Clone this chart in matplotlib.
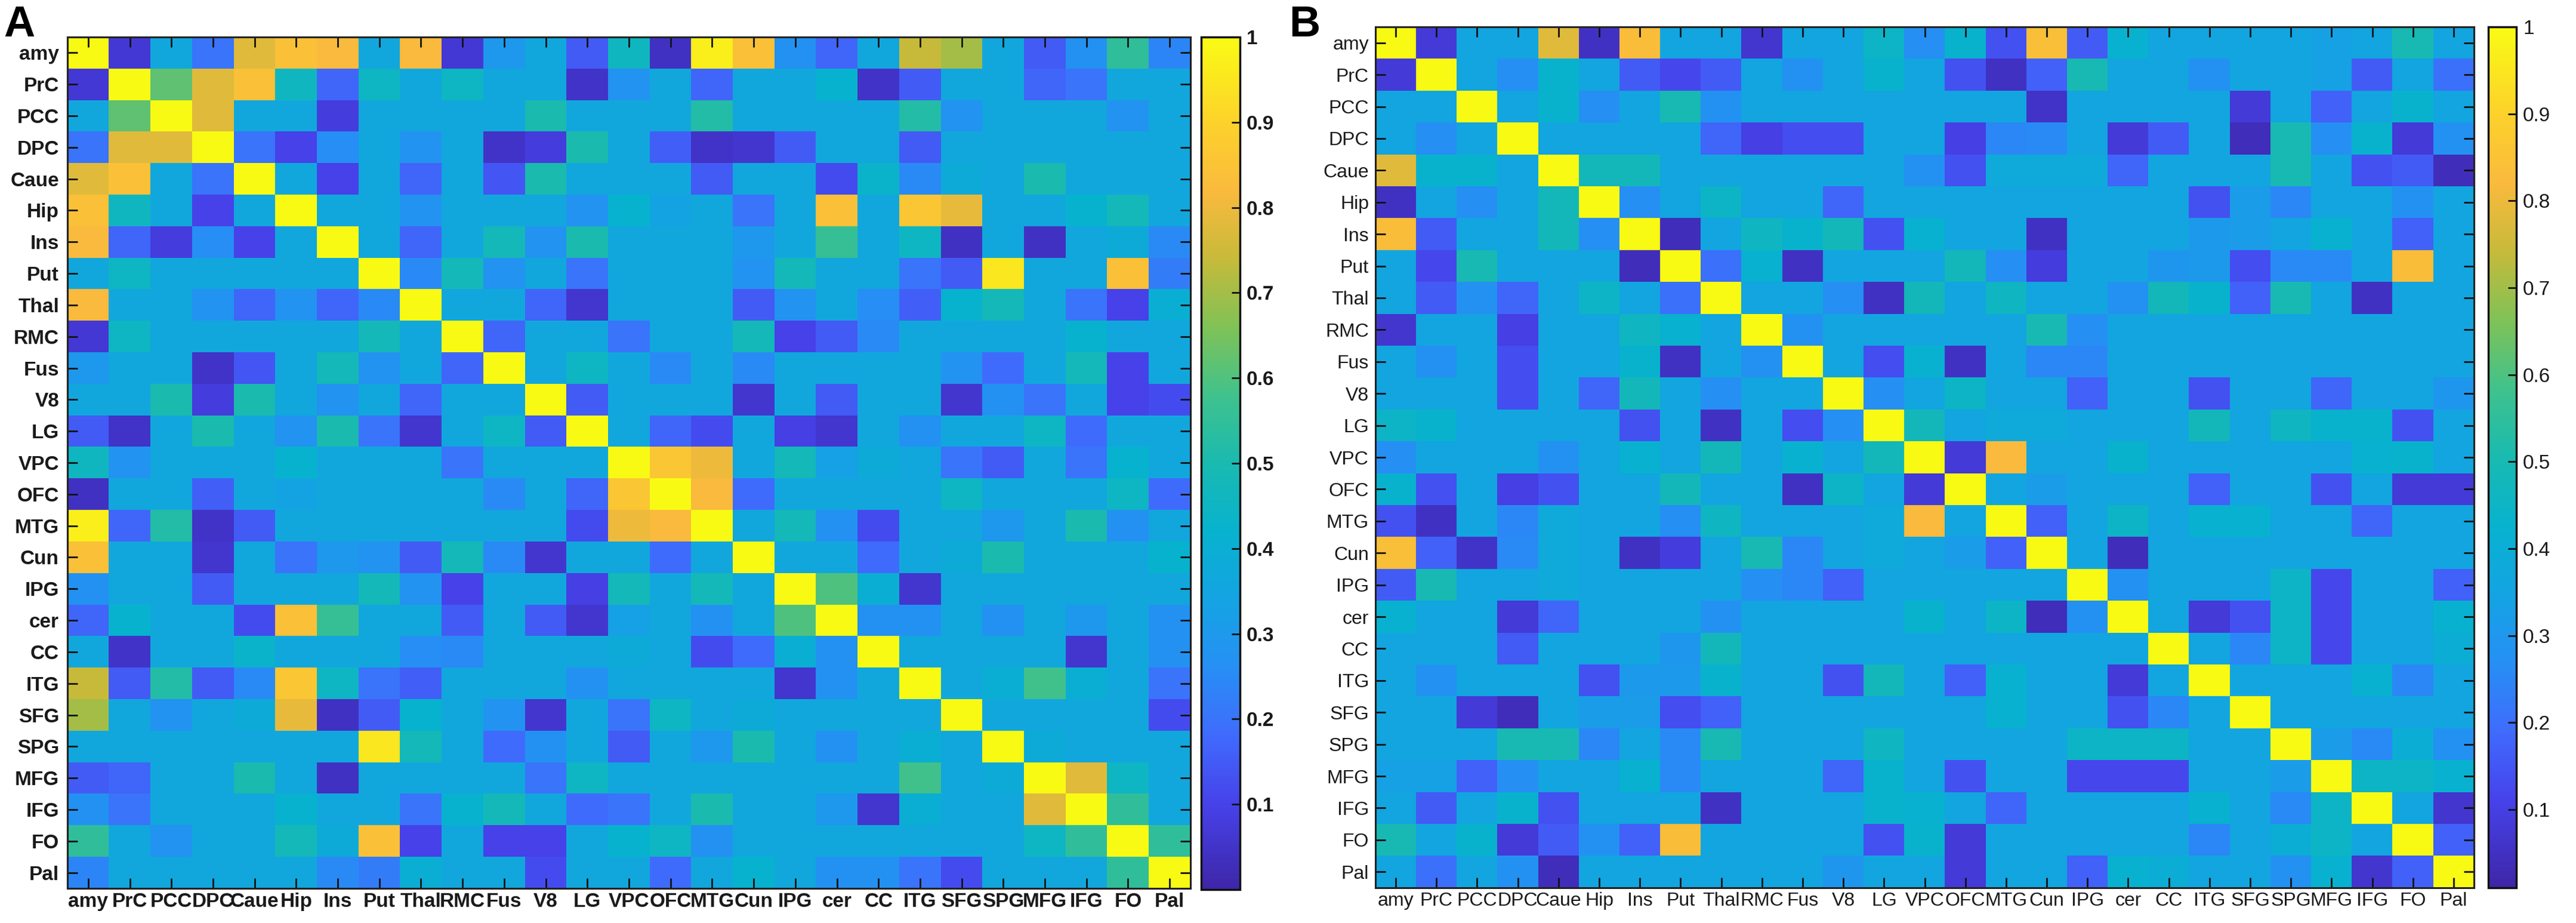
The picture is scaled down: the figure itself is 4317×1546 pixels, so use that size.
import numpy as np
import matplotlib
matplotlib.use("Agg")
import matplotlib.pyplot as plt
from matplotlib.colors import LinearSegmentedColormap

plt.rcParams['font.family'] = ['Liberation Sans', 'DejaVu Sans']

labels = ["amy", "PrC", "PCC", "DPC", "Caue", "Hip", "Ins", "Put", "Thal", "RMC",
          "Fus", "V8", "LG", "VPC", "OFC", "MTG", "Cun", "IPG", "cer", "CC",
          "ITG", "SFG", "SPG", "MFG", "IFG", "FO", "Pal"]

# Upper-triangle rows (from the diagonal to the last column), panel A
upper_A = [
    [1.0, 0.07, 0.36, 0.2, 0.78, 0.84, 0.82, 0.36, 0.82, 0.07, 0.3, 0.36, 0.15, 0.46, 0.04, 0.97, 0.84, 0.27, 0.17, 0.36, 0.74, 0.7, 0.36, 0.15, 0.27, 0.55, 0.24],
    [1.0, 0.62, 0.78, 0.84, 0.46, 0.17, 0.45, 0.36, 0.45, 0.36, 0.36, 0.05, 0.28, 0.36, 0.17, 0.36, 0.36, 0.42, 0.05, 0.15, 0.36, 0.36, 0.17, 0.2, 0.36, 0.36],
    [1.0, 0.78, 0.36, 0.36, 0.08, 0.36, 0.36, 0.36, 0.36, 0.5, 0.36, 0.36, 0.36, 0.52, 0.36, 0.36, 0.36, 0.36, 0.52, 0.28, 0.36, 0.36, 0.36, 0.28, 0.36],
    [1.0, 0.2, 0.1, 0.26, 0.36, 0.28, 0.36, 0.05, 0.08, 0.5, 0.36, 0.16, 0.05, 0.06, 0.15, 0.36, 0.36, 0.15, 0.36, 0.36, 0.36, 0.36, 0.36, 0.36],
    [1.0, 0.36, 0.1, 0.36, 0.17, 0.36, 0.14, 0.5, 0.36, 0.36, 0.36, 0.15, 0.36, 0.36, 0.12, 0.43, 0.25, 0.38, 0.36, 0.5, 0.36, 0.36, 0.36],
    [1.0, 0.36, 0.36, 0.28, 0.36, 0.36, 0.36, 0.28, 0.42, 0.34, 0.36, 0.2, 0.36, 0.84, 0.36, 0.86, 0.79, 0.36, 0.36, 0.42, 0.48, 0.36],
    [1.0, 0.36, 0.17, 0.36, 0.48, 0.28, 0.5, 0.36, 0.36, 0.36, 0.3, 0.36, 0.56, 0.36, 0.45, 0.04, 0.36, 0.04, 0.36, 0.38, 0.25],
    [1.0, 0.25, 0.48, 0.28, 0.36, 0.2, 0.36, 0.36, 0.36, 0.28, 0.48, 0.36, 0.36, 0.2, 0.15, 0.95, 0.36, 0.36, 0.84, 0.22],
    [1.0, 0.36, 0.36, 0.17, 0.06, 0.36, 0.36, 0.36, 0.15, 0.28, 0.36, 0.26, 0.16, 0.42, 0.48, 0.36, 0.2, 0.1, 0.4],
    [1.0, 0.17, 0.36, 0.36, 0.2, 0.36, 0.36, 0.48, 0.1, 0.15, 0.25, 0.36, 0.36, 0.36, 0.36, 0.42, 0.36, 0.36],
    [1.0, 0.36, 0.45, 0.36, 0.25, 0.36, 0.25, 0.36, 0.36, 0.36, 0.36, 0.28, 0.18, 0.36, 0.48, 0.1, 0.36],
    [1.0, 0.15, 0.36, 0.36, 0.36, 0.06, 0.36, 0.15, 0.36, 0.36, 0.06, 0.27, 0.2, 0.36, 0.1, 0.12],
    [1.0, 0.36, 0.17, 0.12, 0.36, 0.09, 0.06, 0.36, 0.27, 0.36, 0.36, 0.45, 0.18, 0.36, 0.36],
    [1.0, 0.86, 0.8, 0.36, 0.48, 0.33, 0.38, 0.36, 0.2, 0.15, 0.36, 0.2, 0.42, 0.36],
    [1.0, 0.82, 0.18, 0.36, 0.36, 0.36, 0.36, 0.45, 0.36, 0.36, 0.36, 0.45, 0.18],
    [1.0, 0.36, 0.48, 0.27, 0.12, 0.36, 0.36, 0.3, 0.36, 0.5, 0.27, 0.36],
    [1.0, 0.36, 0.36, 0.18, 0.36, 0.38, 0.5, 0.36, 0.36, 0.36, 0.42],
    [1.0, 0.6, 0.4, 0.06, 0.36, 0.36, 0.36, 0.36, 0.36, 0.36],
    [1.0, 0.27, 0.27, 0.36, 0.27, 0.36, 0.3, 0.36, 0.27],
    [1.0, 0.36, 0.36, 0.36, 0.36, 0.06, 0.36, 0.27],
    [1.0, 0.36, 0.4, 0.58, 0.4, 0.36, 0.2],
    [1.0, 0.36, 0.36, 0.36, 0.36, 0.12],
    [1.0, 0.38, 0.36, 0.36, 0.36],
    [1.0, 0.78, 0.45, 0.36],
    [1.0, 0.55, 0.36],
    [1.0, 0.55],
    [1.0],
]

# Upper-triangle rows, panel B
upper_B = [
    [1.0, 0.08, 0.36, 0.36, 0.78, 0.05, 0.83, 0.36, 0.36, 0.07, 0.36, 0.36, 0.45, 0.27, 0.43, 0.14, 0.84, 0.16, 0.42, 0.36, 0.36, 0.36, 0.36, 0.34, 0.36, 0.5, 0.36],
    [1.0, 0.36, 0.27, 0.43, 0.36, 0.16, 0.12, 0.16, 0.36, 0.28, 0.36, 0.43, 0.36, 0.14, 0.05, 0.17, 0.5, 0.36, 0.36, 0.28, 0.36, 0.36, 0.34, 0.16, 0.36, 0.2],
    [1.0, 0.36, 0.43, 0.27, 0.36, 0.5, 0.28, 0.36, 0.36, 0.36, 0.36, 0.36, 0.36, 0.36, 0.06, 0.36, 0.36, 0.36, 0.36, 0.08, 0.36, 0.17, 0.36, 0.43, 0.36],
    [1.0, 0.36, 0.36, 0.36, 0.36, 0.18, 0.1, 0.13, 0.13, 0.36, 0.36, 0.1, 0.25, 0.26, 0.36, 0.08, 0.16, 0.36, 0.04, 0.5, 0.27, 0.43, 0.08, 0.28],
    [1.0, 0.48, 0.48, 0.36, 0.36, 0.36, 0.36, 0.36, 0.36, 0.28, 0.14, 0.38, 0.38, 0.38, 0.18, 0.36, 0.36, 0.36, 0.5, 0.36, 0.14, 0.16, 0.04],
    [1.0, 0.27, 0.36, 0.45, 0.36, 0.36, 0.18, 0.36, 0.36, 0.36, 0.36, 0.36, 0.36, 0.36, 0.36, 0.14, 0.32, 0.25, 0.36, 0.36, 0.28, 0.36],
    [1.0, 0.04, 0.36, 0.46, 0.43, 0.48, 0.14, 0.42, 0.36, 0.36, 0.05, 0.36, 0.36, 0.36, 0.31, 0.32, 0.36, 0.42, 0.36, 0.17, 0.36],
    [1.0, 0.2, 0.42, 0.05, 0.36, 0.36, 0.36, 0.48, 0.27, 0.09, 0.36, 0.36, 0.3, 0.31, 0.13, 0.26, 0.26, 0.36, 0.83, 0.36],
    [1.0, 0.36, 0.36, 0.27, 0.05, 0.48, 0.36, 0.46, 0.36, 0.36, 0.28, 0.48, 0.43, 0.17, 0.5, 0.36, 0.05, 0.36, 0.36],
    [1.0, 0.28, 0.36, 0.36, 0.36, 0.36, 0.36, 0.5, 0.27, 0.36, 0.36, 0.36, 0.36, 0.36, 0.36, 0.36, 0.36, 0.36],
    [1.0, 0.36, 0.13, 0.42, 0.05, 0.36, 0.25, 0.25, 0.36, 0.36, 0.36, 0.36, 0.36, 0.36, 0.36, 0.36, 0.36],
    [1.0, 0.27, 0.36, 0.45, 0.36, 0.36, 0.17, 0.36, 0.36, 0.14, 0.36, 0.36, 0.18, 0.36, 0.36, 0.3],
    [1.0, 0.48, 0.36, 0.38, 0.38, 0.36, 0.36, 0.36, 0.48, 0.36, 0.46, 0.43, 0.43, 0.14, 0.36],
    [1.0, 0.08, 0.82, 0.36, 0.36, 0.43, 0.36, 0.36, 0.36, 0.36, 0.36, 0.42, 0.43, 0.36],
    [1.0, 0.36, 0.32, 0.36, 0.36, 0.36, 0.17, 0.36, 0.36, 0.14, 0.36, 0.08, 0.08],
    [1.0, 0.17, 0.36, 0.45, 0.36, 0.42, 0.42, 0.36, 0.36, 0.18, 0.36, 0.36],
    [1.0, 0.36, 0.04, 0.36, 0.36, 0.36, 0.36, 0.36, 0.36, 0.36, 0.36],
    [1.0, 0.28, 0.36, 0.36, 0.36, 0.45, 0.12, 0.36, 0.36, 0.17],
    [1.0, 0.36, 0.08, 0.14, 0.45, 0.12, 0.36, 0.36, 0.42],
    [1.0, 0.36, 0.25, 0.45, 0.12, 0.36, 0.36, 0.4],
    [1.0, 0.36, 0.36, 0.36, 0.42, 0.25, 0.36],
    [1.0, 0.36, 0.36, 0.36, 0.36, 0.36],
    [1.0, 0.32, 0.26, 0.4, 0.28],
    [1.0, 0.45, 0.45, 0.42],
    [1.0, 0.36, 0.07],
    [1.0, 0.17],
    [1.0],
]

cbar_ticks = [0.1, 0.2, 0.3, 0.4, 0.5, 0.6, 0.7, 0.8, 0.9, 1.0]
cbar_ticklabels = ["0.1", "0.2", "0.3", "0.4", "0.5", "0.6", "0.7", "0.8", "0.9", "1"]


def symmetric(rows):
    n = len(rows)
    m = np.zeros((n, n))
    for i, r in enumerate(rows):
        m[i, i:] = r
        m[i:, i] = r
    return m


mat_A = symmetric(upper_A)
mat_B = symmetric(upper_B)

# parula-like colormap
parula_stops = [
    (0.00, (0.243, 0.150, 0.660)),
    (0.10, (0.276, 0.260, 0.920)),
    (0.18, (0.250, 0.420, 0.990)),
    (0.26, (0.150, 0.560, 0.960)),
    (0.34, (0.080, 0.640, 0.890)),
    (0.42, (0.030, 0.700, 0.810)),
    (0.50, (0.100, 0.730, 0.690)),
    (0.58, (0.250, 0.760, 0.550)),
    (0.66, (0.500, 0.760, 0.340)),
    (0.74, (0.780, 0.730, 0.230)),
    (0.82, (0.980, 0.730, 0.240)),
    (0.90, (0.990, 0.820, 0.170)),
    (1.00, (0.977, 0.984, 0.080)),
]
parula = LinearSegmentedColormap.from_list("parula_like", parula_stops, N=256)

W, H = 4317, 1546
fig = plt.figure(figsize=(W / 100, H / 100), dpi=100)


def rect(x0, y0, x1, y1):
    return [x0 / W, 1 - y1 / H, (x1 - x0) / W, (y1 - y0) / H]


def draw_panel(mat, ax_rect, cax_rect, vmin, weight, fs, cfs, ypad, cb_bold):
    ax = fig.add_axes(rect(*ax_rect))
    im = ax.imshow(mat, cmap=parula, vmin=vmin, vmax=1.0, aspect='auto',
                   interpolation='nearest')
    n = len(labels)
    ax.set_xticks(range(n))
    ax.set_yticks(range(n))
    ax.set_xticklabels(labels, fontsize=fs, fontweight=weight, color='#1a1a1a')
    ax.set_yticklabels(labels, fontsize=fs, fontweight=weight, color='#1a1a1a')
    ax.tick_params(axis='both', direction='in', top=True, right=True,
                   length=12, width=2.0, color='#111111')
    ax.tick_params(axis='y', pad=ypad)
    ax.tick_params(axis='x', pad=5)
    for s in ax.spines.values():
        s.set_linewidth(2.2)
        s.set_color('#222222')
    cax = fig.add_axes(rect(*cax_rect))
    cb = fig.colorbar(im, cax=cax, ticks=cbar_ticks)
    cb.ax.set_yticklabels(cbar_ticklabels, fontsize=cfs,
                          fontweight='bold' if cb_bold else 'normal', color='#1a1a1a')
    cb.ax.tick_params(direction='in', length=10, width=2.0, color='#111111', pad=8)
    cb.outline.set_linewidth(2.5)
    cb.outline.set_edgecolor('#111111')
    return ax


draw_panel(mat_A, (113, 62, 1995, 1488), (2013, 62, 2078, 1490), 0.0,
           'bold', 24, 24, 10, True)
draw_panel(mat_B, (2305, 45, 4146, 1487), (4170, 45, 4217, 1487), 0.01,
           'normal', 23, 24, 8, False)

fig.text(6 / W, 1 - 8 / H, "A", fontsize=52, fontweight='bold', va='top', ha='left')
fig.text(2160 / W, 1 - 8 / H, "B", fontsize=52, fontweight='bold', va='top', ha='left')

fig.savefig("out.png", dpi=100, facecolor='white')
